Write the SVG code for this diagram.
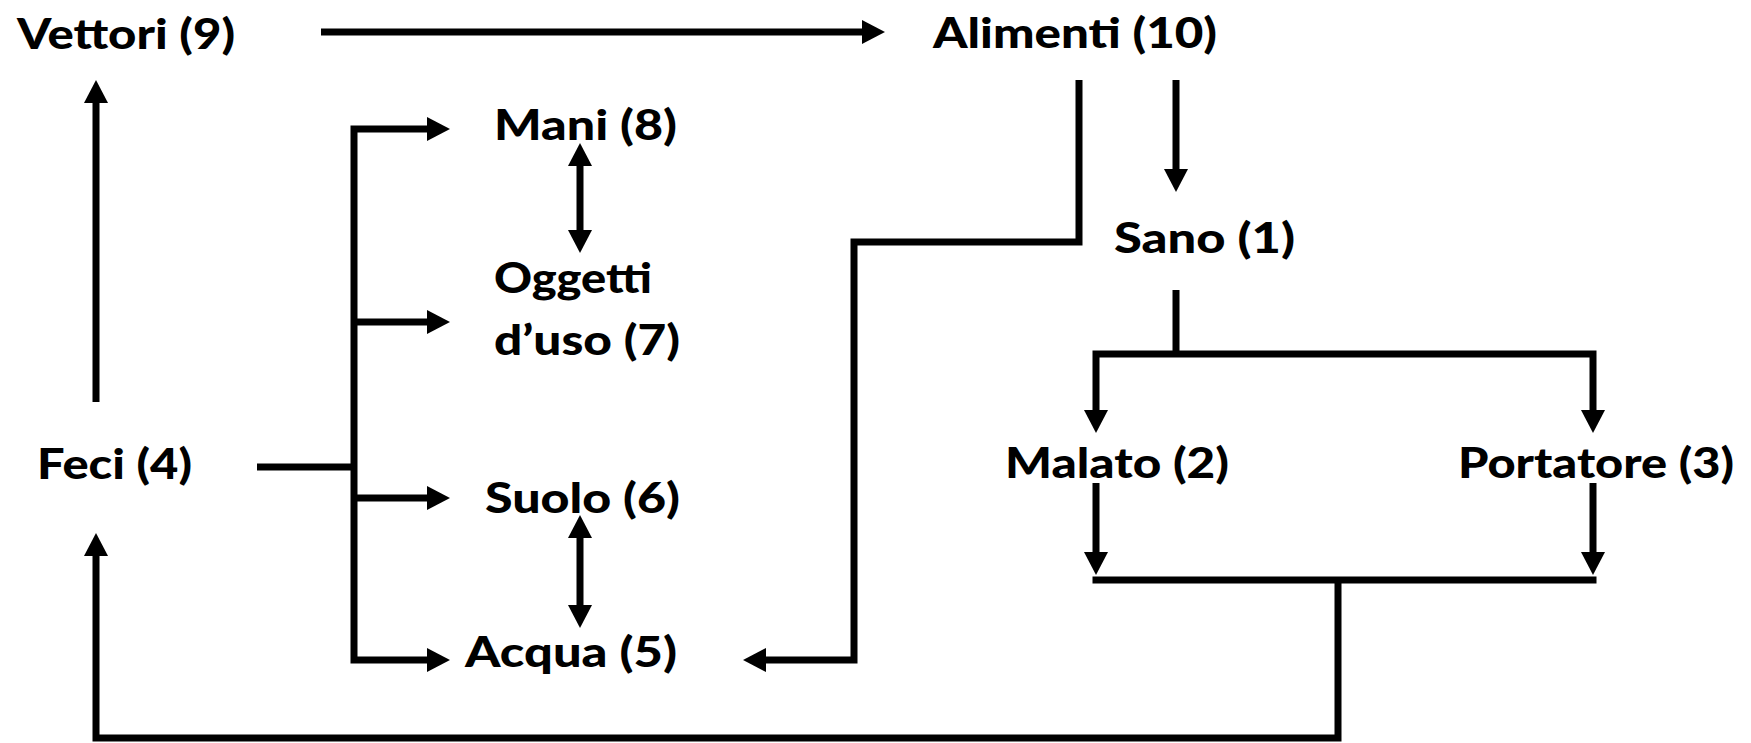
<svg xmlns="http://www.w3.org/2000/svg" width="1751" height="743" viewBox="0 0 1751 743">
<style>
.t{font-family:Lato,"Liberation Sans",Arial,sans-serif;font-weight:900;font-size:42px;fill:#000}
.c{fill:none;stroke:#000;stroke-width:7;stroke-linejoin:miter;stroke-linecap:butt}
</style>
<defs>
<marker id="ah" markerUnits="userSpaceOnUse" markerWidth="24" markerHeight="24" viewBox="0 0 23 24" refX="0" refY="12" orient="auto-start-reverse">
<path d="M0,0 L23,12 L0,24 Z" fill="#000"/>
</marker>
</defs>
<rect width="1751" height="743" fill="#fff"/>
<g id="connectors">
<line class="c" x1="321" y1="32" x2="862" y2="32" marker-end="url(#ah)"/>
<line class="c" x1="96" y1="402" x2="96" y2="103" marker-end="url(#ah)"/>
<line class="c" x1="257" y1="467" x2="354" y2="467"/>
<path class="c" d="M427,129 H354 V660 H427" marker-start="url(#ah)" marker-end="url(#ah)"/>
<line class="c" x1="354" y1="322" x2="427" y2="322" marker-end="url(#ah)"/>
<line class="c" x1="354" y1="498" x2="427" y2="498" marker-end="url(#ah)"/>
<line class="c" x1="580" y1="166" x2="580" y2="230" marker-start="url(#ah)" marker-end="url(#ah)"/>
<line class="c" x1="580" y1="538" x2="580" y2="605" marker-start="url(#ah)" marker-end="url(#ah)"/>
<path class="c" d="M1079,80 V242 H854 V660 H766" marker-end="url(#ah)"/>
<line class="c" x1="1176" y1="80" x2="1176" y2="169" marker-end="url(#ah)"/>
<line class="c" x1="1176" y1="290" x2="1176" y2="354"/>
<path class="c" d="M1096,410 V354 H1593 V410" marker-start="url(#ah)" marker-end="url(#ah)"/>
<line class="c" x1="1096" y1="483" x2="1096" y2="552" marker-end="url(#ah)"/>
<line class="c" x1="1593" y1="483" x2="1593" y2="552" marker-end="url(#ah)"/>
<line class="c" x1="1092.5" y1="580" x2="1596.5" y2="580"/>
<path class="c" d="M1338,580 V738 H96 V556" marker-end="url(#ah)"/>
</g>
<g id="n9"><text class="t" x="17" y="49" textLength="218" lengthAdjust="spacingAndGlyphs">Vettori (9)</text></g>
<g id="n10"><text class="t" x="933" y="48" textLength="284" lengthAdjust="spacingAndGlyphs">Alimenti (10)</text></g>
<g id="n8"><text class="t" x="494" y="140" textLength="183" lengthAdjust="spacingAndGlyphs">Mani (8)</text></g>
<g id="n7"><text class="t" x="494" y="293" textLength="158" lengthAdjust="spacingAndGlyphs">Oggetti</text><text class="t" x="494" y="355" textLength="186" lengthAdjust="spacingAndGlyphs">d’uso (7)</text></g>
<g id="n1"><text class="t" x="1114" y="253" textLength="181" lengthAdjust="spacingAndGlyphs">Sano (1)</text></g>
<g id="n2"><text class="t" x="1005" y="478" textLength="224" lengthAdjust="spacingAndGlyphs">Malato (2)</text></g>
<g id="n3"><text class="t" x="1458" y="478" textLength="276" lengthAdjust="spacingAndGlyphs">Portatore (3)</text></g>
<g id="n4"><text class="t" x="37" y="479" textLength="155" lengthAdjust="spacingAndGlyphs">Feci (4)</text></g>
<g id="n6"><text class="t" x="485" y="513" textLength="195" lengthAdjust="spacingAndGlyphs">Suolo (6)</text></g>
<g id="n5"><text class="t" x="465" y="667" textLength="212" lengthAdjust="spacingAndGlyphs">Acqua (5)</text></g>
</svg>
